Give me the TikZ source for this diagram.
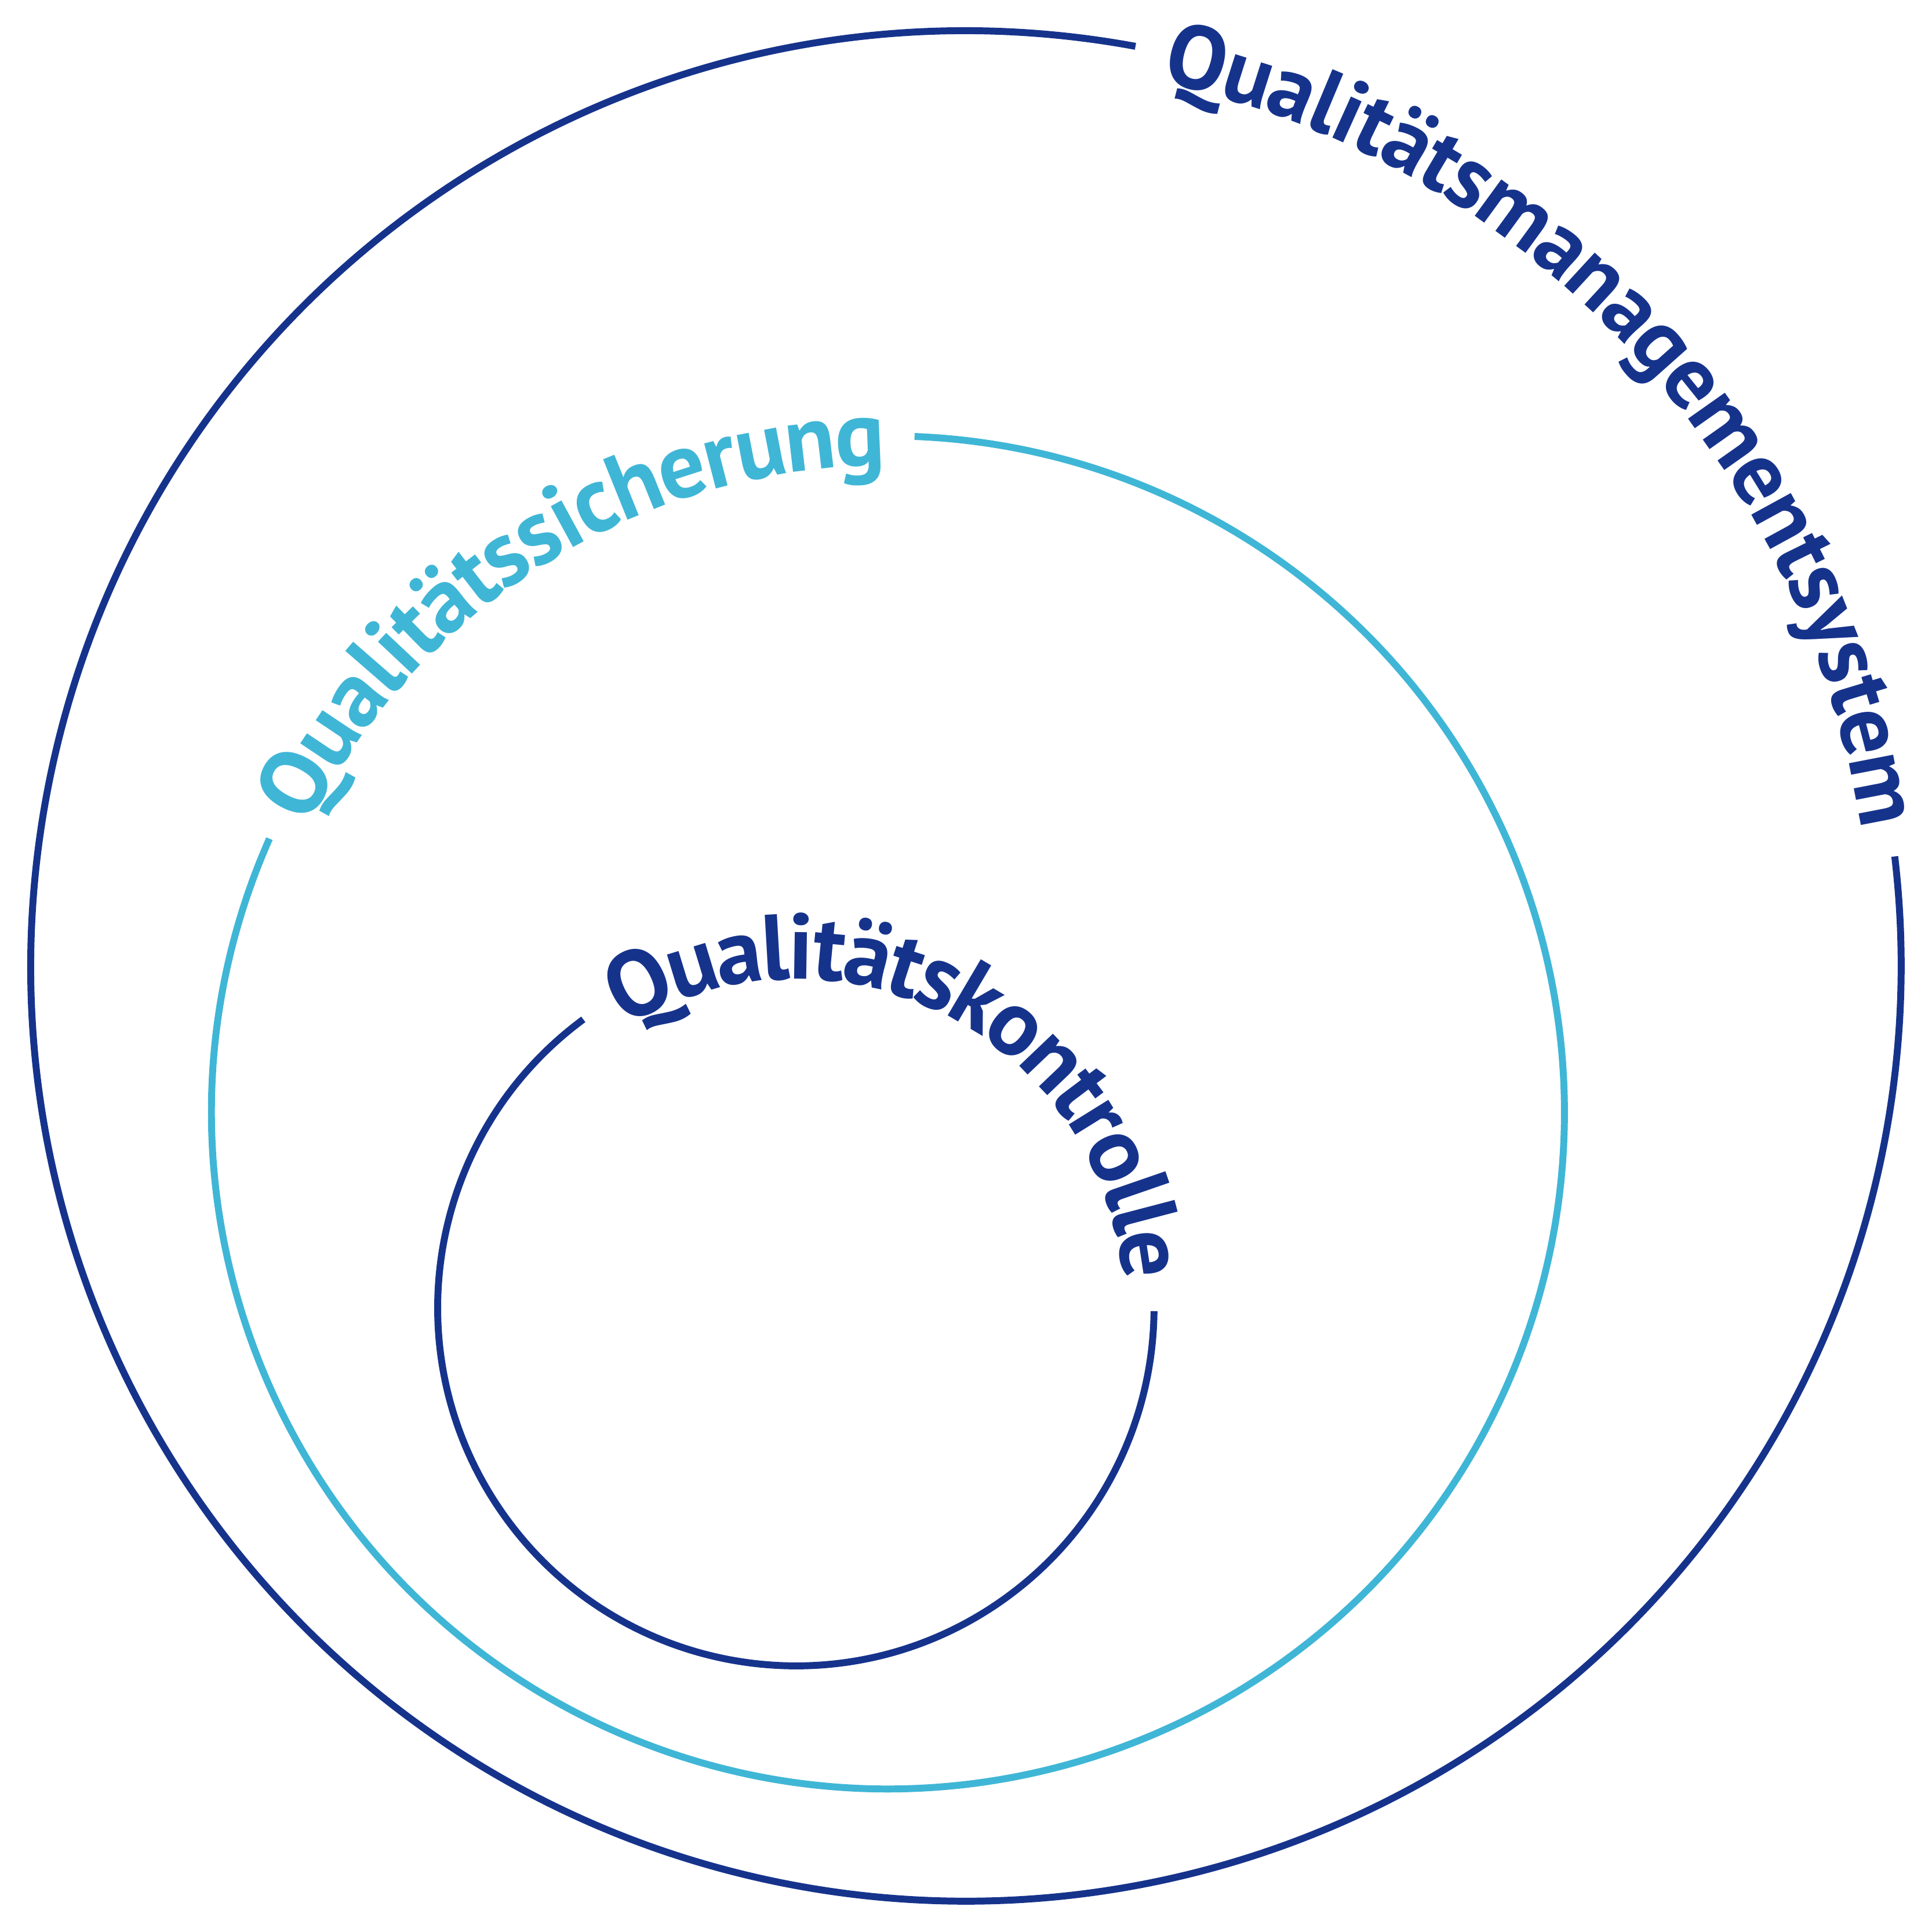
\documentclass[tikz,border=0pt]{standalone}
\usepackage{fontspec}
\setmainfont{PT Sans}
\usepackage{tikz}
\usetikzlibrary{decorations.text}
\definecolor{navy}{HTML}{16338C}
\definecolor{sky}{HTML}{40B6D6}
\newcommand{\ringfont}{\fontsize{21.5pt}{22pt}\selectfont\bfseries}
\newcommand{\outerfont}{\fontsize{20.8pt}{22pt}\selectfont\bfseries}

\begin{document}
\begin{tikzpicture}[
  ring/.style={line width=1.6pt},
  arctext/.style={decorate, decoration={text along path, text align=center,
                  raise=-0.24cm, text={#1}}},
]
  \useasboundingbox (0,0) rectangle (15.68,-15.68);
  \coordinate (qm) at (7.84,-7.84);
  \coordinate (qs) at (7.207,-9.028);
  \coordinate (qk) at (6.459,-10.613);
  % rings, open where the label sits
  \draw[ring,navy] (qm) ++(79.56:7.59) arc[start angle=79.56, end angle=366.73, radius=7.59];
  \draw[ring,sky] (qs) ++(156.13:5.49) arc[start angle=156.13, end angle=447.75, radius=5.49];
  \draw[ring,navy] (qk) ++(126.4:2.907) arc[start angle=126.4, end angle=359.44, radius=2.907];
  % labels along the gaps
  \path[arctext={|\outerfont\color{navy}|Qualitätsmanagementsystem}]
    (qm) ++(79.56:7.59) arc[start angle=79.56, end angle=6.73, radius=7.59];
  \path[arctext={|\ringfont\color{sky}|Qualitätssicherung}]
    (qs) ++(156.13:5.49) arc[start angle=156.13, end angle=87.75, radius=5.49];
  \path[arctext={|\ringfont\color{navy}|Qualitätskontrolle}]
    (qk) ++(126.4:2.907) arc[start angle=126.4, end angle=-0.56, radius=2.907];
\end{tikzpicture}
\end{document}
